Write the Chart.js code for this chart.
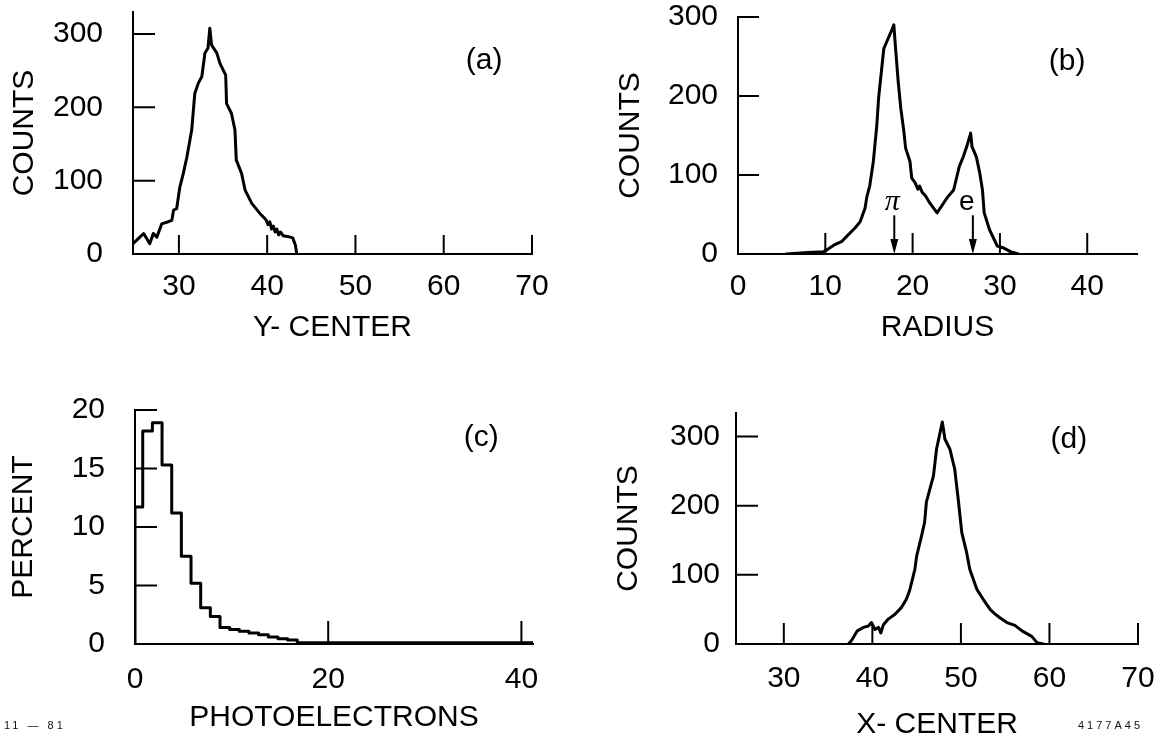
<!DOCTYPE html>
<html>
<head>
<meta charset="utf-8">
<title>Cherenkov ring distributions</title>
<script src="https://cdn.jsdelivr.net/npm/chart.js@4.4.1/dist/chart.umd.min.js"></script>
<style>
  html, body { margin: 0; padding: 0; background: #fff; }
  body { width: 1173px; height: 744px; position: relative; overflow: hidden; font-family: "Liberation Sans", Arial, sans-serif; }
  canvas { position: absolute; }
  .note { position: absolute; font-size: 11px; line-height: 11px; color: #111; letter-spacing: 3px; }
</style>
</head>
<body>
<canvas id="panel-a"></canvas>
<canvas id="panel-b"></canvas>
<canvas id="panel-c"></canvas>
<canvas id="panel-d"></canvas>
<div class="note" style="left:4px; top:720px;">11 — 81</div>
<div class="note" style="left:1078px; top:720px;">4177A45</div>

<script>
// (a) ring centre, vertical coordinate
const yCenterPos = [24.8, 25.4, 26.0, 26.35, 26.7, 27.1, 27.5, 28.05, 28.8, 29.2, 29.4, 29.75, 30.1, 30.5, 30.9, 31.45, 31.8, 32.2, 32.6, 32.95, 33.3, 33.5, 33.7, 34.3, 34.65, 35.3, 35.4, 35.95, 36.35, 36.5, 37.1, 37.5, 38.25, 39.2, 39.6, 39.9, 40.1, 40.3, 40.5, 40.7, 40.9, 41.1, 41.3, 41.5, 41.8, 42.3, 42.9, 43.2, 43.35];
const yCenterCounts = [14, 21, 28, 21, 14, 28, 23, 41, 44, 46, 60, 62, 91, 110, 132, 169, 219, 233, 242, 274, 281, 308, 285, 274, 260, 244, 205, 192, 169, 128, 110, 87, 69, 55, 50, 46, 40, 44, 34, 38, 30, 34, 26, 30, 25, 24, 22, 12, 0];

// (b) ring radius, with pion and electron peaks
const radiusPos = [5.5, 8.0, 9.8, 10.15, 11.1, 11.9, 12.6, 13.4, 14.0, 14.55, 14.75, 15.1, 15.5, 15.9, 16.1, 16.3, 16.7, 17.05, 17.6, 17.85, 18.05, 18.35, 18.65, 19.0, 19.2, 19.7, 19.9, 20.3, 20.6, 20.8, 21.1, 21.45, 22.0, 22.8, 23.4, 24.0, 24.7, 25.35, 25.8, 26.2, 26.65, 26.8, 27.3, 27.7, 28.0, 28.2, 28.8, 29.7, 30.35, 31.2, 32.1];
const radiusCounts = [0, 2, 3, 5, 12, 16, 24, 33, 41, 58, 72, 87, 117, 163, 197, 218, 260, 269, 283, 290, 260, 218, 184, 155, 134, 117, 96, 90, 82, 86, 78, 74, 64, 52, 62, 72, 81, 111, 123, 136, 153, 136, 123, 102, 81, 52, 31, 10, 8, 3, 0];
const particleNames = ['π', 'e'];
const particleRadius = [17.9, 26.9];

// (c) photoelectrons per ring, left bin edges
const peBinStart = [0, 0, 0.8, 1.8, 2.8, 3.8, 4.8, 5.8, 6.8, 7.8, 8.8, 9.8, 10.8, 11.8, 12.8, 13.8, 14.8, 15.8, 16.8, 41.2];
const pePercent = [0, 11.7, 18.2, 18.9, 15.3, 11.2, 7.5, 5.2, 3.1, 2.35, 1.4, 1.25, 1.1, 0.95, 0.8, 0.6, 0.45, 0.35, 0.1, 0.1];

// (d) ring centre, horizontal coordinate
const xCenterPos = [37.3, 37.7, 38.3, 39.0, 39.55, 39.9, 40.3, 40.7, 40.95, 41.25, 41.8, 42.55, 43.3, 43.85, 44.2, 44.8, 45.0, 45.55, 45.9, 46.1, 46.6, 46.9, 47.25, 47.65, 47.9, 48.2, 48.75, 49.3, 49.7, 50.1, 50.65, 51.0, 51.8, 52.5, 53.3, 53.8, 54.4, 55.2, 56.1, 56.9, 58.0, 58.6, 59.3];
const xCenterCounts = [0, 6, 19, 24, 26, 31, 21, 24, 16, 28, 36, 43, 53, 65, 77, 108, 127, 156, 176, 205, 229, 243, 282, 306, 321, 296, 282, 253, 209, 161, 132, 108, 79, 65, 50, 44, 38, 31, 27, 19, 11, 2, 0];

// tick labels
const centerTicks = [30, 40, 50, 60, 70];
const radiusTicks = [0, 10, 20, 30, 40];
const peTicks = [0, 20, 40];
const countTicks = [0, 100, 200, 300];
const percentTicks = [0, 5, 10, 15, 20];

const FONT = '"Liberation Sans", Arial, sans-serif';

// short tick marks pointing into the plot
const inwardTicks = {
  id: 'inwardTicks',
  afterDraw(chart, args, opts) {
    const { ctx, chartArea: a, scales: { x, y } } = chart;
    ctx.save();
    ctx.strokeStyle = '#000';
    ctx.lineWidth = 2;
    ctx.beginPath();
    x.ticks.forEach(t => {
      if (t.value <= x.min) return;
      const px = x.getPixelForValue(t.value);
      ctx.moveTo(px, a.bottom);
      ctx.lineTo(px, a.bottom - opts.x);
    });
    y.ticks.forEach(t => {
      if (t.value <= y.min) return;
      const py = y.getPixelForValue(t.value);
      ctx.moveTo(a.left, py);
      ctx.lineTo(a.left + opts.y, py);
    });
    ctx.stroke();
    ctx.restore();
  }
};

const panelTag = {
  id: 'panelTag',
  afterDraw(chart, args, opts) {
    if (!opts.text) return;
    const { ctx, chartArea: a } = chart;
    ctx.save();
    ctx.font = '30px ' + FONT;
    ctx.fillStyle = '#000';
    ctx.textAlign = 'center';
    ctx.textBaseline = 'middle';
    ctx.fillText(opts.text, a.left + opts.fx * (a.right - a.left), a.top + opts.fy * (a.bottom - a.top));
    ctx.restore();
  }
};

// labelled arrows down to the axis
const markerArrows = {
  id: 'markerArrows',
  afterDraw(chart, args, opts) {
    if (!opts.at) return;
    const { ctx, scales: { x, y } } = chart;
    ctx.save();
    ctx.strokeStyle = '#000';
    ctx.fillStyle = '#000';
    ctx.lineWidth = 2;
    opts.at.forEach((v, i) => {
      const px = x.getPixelForValue(v);
      const top = y.getPixelForValue(opts.from);
      const base = y.getPixelForValue(0);
      ctx.beginPath();
      ctx.moveTo(px, top);
      ctx.lineTo(px, base - 10);
      ctx.stroke();
      ctx.beginPath();
      ctx.moveTo(px - 4, base - 15);
      ctx.lineTo(px + 4, base - 15);
      ctx.lineTo(px, base);
      ctx.closePath();
      ctx.fill();
      ctx.font = opts.fonts[i];
      ctx.textAlign = 'center';
      ctx.textBaseline = 'middle';
      ctx.fillText(opts.names[i], px + opts.dx[i], y.getPixelForValue(opts.labelAt));
    });
    ctx.restore();
  }
};

function drawPanel(id, frame, spec) {
  const [bx, by, bw, bh] = frame.box;
  const [l, t, r, b] = frame.area;
  const canvas = document.getElementById(id);
  canvas.width = bw;
  canvas.height = bh;
  canvas.style.left = bx + 'px';
  canvas.style.top = by + 'px';
  const font = { family: FONT, size: 30 };

  return new Chart(canvas, {
    type: 'line',
    data: {
      datasets: [{
        data: spec.xs.map((x, i) => ({ x, y: spec.ys[i] })),
        borderColor: '#000',
        borderWidth: 3,
        pointRadius: 0,
        tension: 0,
        stepped: spec.stepped || false,
        borderJoinStyle: 'round',
        borderCapStyle: 'round'
      }]
    },
    options: {
      responsive: false,
      animation: false,
      devicePixelRatio: 1,
      layout: { padding: { left: 0, top: t - by, right: bx + bw - r, bottom: 0 } },
      plugins: {
        legend: { display: false },
        tooltip: { enabled: false },
        inwardTicks: { x: spec.tickLen[0], y: spec.tickLen[1] },
        panelTag: spec.tag,
        markerArrows: spec.markers || {}
      },
      scales: {
        x: {
          type: 'linear',
          min: spec.xRange[0],
          max: spec.xRange[1],
          afterBuildTicks: s => { s.ticks = spec.xTicks.map(v => ({ value: v })); },
          afterFit: s => { s.height = by + bh - b; s.paddingLeft = 0; s.paddingRight = 0; },
          grid: { display: false, drawTicks: false },
          border: { color: '#000', width: 2 },
          ticks: { color: '#000', font, padding: spec.xPad, maxRotation: 0, autoSkip: false },
          title: { display: true, text: spec.xTitle, color: '#000', font, padding: { top: 0, bottom: spec.xTitlePad } }
        },
        y: {
          type: 'linear',
          min: spec.yRange[0],
          max: spec.yRange[1],
          afterBuildTicks: s => { s.ticks = spec.yTicks.map(v => ({ value: v })); },
          afterFit: s => { s.width = l - bx; s.paddingTop = 0; s.paddingBottom = 0; },
          grid: { display: false, drawTicks: false },
          border: { color: '#000', width: 2 },
          ticks: { color: '#000', font, padding: spec.yPad, autoSkip: false },
          title: { display: true, text: spec.yTitle, color: '#000', font, padding: { top: spec.yTitlePad, bottom: 0 } }
        }
      }
    },
    plugins: [inwardTicks, panelTag, markerArrows]
  });
}

drawPanel('panel-a', { box: [0, 0, 586, 372], area: [133, 12, 532, 254] }, {
  xs: yCenterPos, ys: yCenterCounts,
  xRange: [24.8, 70], yRange: [0, 330],
  xTicks: centerTicks, yTicks: countTicks,
  xTitle: 'Y- CENTER', yTitle: 'COUNTS',
  xPad: 15, yPad: 30, xTitlePad: 26, yTitlePad: 7,
  tickLen: [19, 22],
  tag: { text: '(a)', fx: 0.88, fy: 0.2 }
});

drawPanel('panel-b', { box: [586, 0, 587, 372], area: [738, 17, 1137, 254] }, {
  xs: radiusPos, ys: radiusCounts,
  xRange: [0, 45.7], yRange: [0, 300],
  xTicks: radiusTicks, yTicks: countTicks,
  xTitle: 'RADIUS', yTitle: 'COUNTS',
  xPad: 15, yPad: 20, xTitlePad: 26, yTitlePad: 27,
  tickLen: [21, 21],
  tag: { text: '(b)', fx: 0.825, fy: 0.19 },
  markers: {
    at: particleRadius, names: particleNames, from: 49, labelAt: 66, dx: [-2, -6],
    fonts: ['italic 30px "Liberation Serif", serif', '28px ' + FONT]
  }
});

drawPanel('panel-c', { box: [0, 372, 586, 372], area: [135, 410, 533, 644] }, {
  xs: peBinStart, ys: pePercent, stepped: 'before',
  xRange: [0, 41.2], yRange: [0, 20],
  xTicks: peTicks, yTicks: percentTicks,
  xTitle: 'PHOTOELECTRONS', yTitle: 'PERCENT',
  xPad: 18, yPad: 30, xTitlePad: 8, yTitlePad: 6,
  tickLen: [23, 22],
  tag: { text: '(c)', fx: 0.87, fy: 0.12 }
});

drawPanel('panel-d', { box: [586, 372, 587, 372], area: [736, 413, 1138, 644] }, {
  xs: xCenterPos, ys: xCenterCounts,
  xRange: [24.6, 70], yRange: [0, 334],
  xTicks: centerTicks, yTicks: countTicks,
  xTitle: 'X- CENTER', yTitle: 'COUNTS',
  xPad: 17, yPad: 16, xTitlePad: 1, yTitlePad: 25,
  tickLen: [21, 22],
  tag: { text: '(d)', fx: 0.828, fy: 0.117 }
});
</script>
</body>
</html>
